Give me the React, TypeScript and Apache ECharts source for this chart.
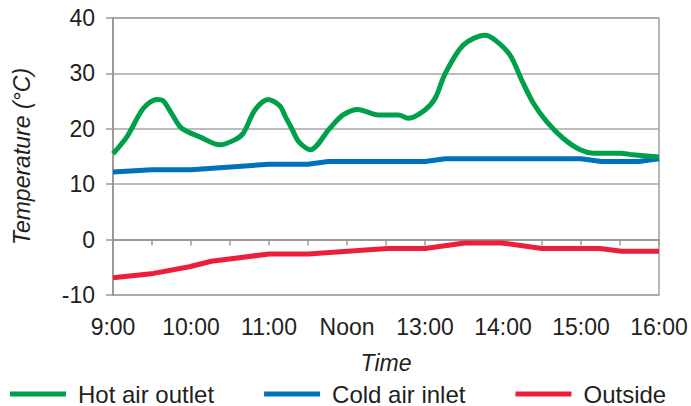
import React, { useEffect, useRef } from "react";
import * as echarts from "echarts";

const xTickLabels = ["9:00", "10:00", "11:00", "Noon", "13:00", "14:00", "15:00", "16:00"];
const seriesNames = ["Hot air outlet", "Cold air inlet", "Outside"];

const hotTimes = [9.0, 9.18, 9.39, 9.56, 9.64, 9.75, 9.88, 10.12, 10.37, 10.56, 10.67, 10.82, 10.99, 11.14, 11.21, 11.29, 11.38, 11.53, 11.78, 11.95, 12.14, 12.4, 12.66, 12.79, 13.0, 13.13, 13.26, 13.49, 13.77, 13.9, 14.09, 14.24, 14.39, 14.56, 14.77, 14.99, 15.16, 15.5, 15.67, 16.0];
const hotValues = [15.5, 18.6, 23.7, 25.3, 25.1, 22.8, 20.1, 18.5, 17.1, 18.0, 19.2, 23.4, 25.3, 24.1, 22.2, 20.1, 17.7, 16.2, 20.1, 22.5, 23.5, 22.5, 22.5, 21.9, 23.4, 25.5, 30.0, 35.1, 36.9, 36.0, 33.3, 28.8, 24.6, 21.3, 18.3, 16.2, 15.6, 15.6, 15.3, 14.9];

const coldTimes = [9.0, 9.5, 10.0, 11.0, 11.5, 11.76, 13.0, 13.26, 15.0, 15.26, 15.74, 16.0];
const coldValues = [12.2, 12.6, 12.6, 13.6, 13.6, 14.1, 14.1, 14.6, 14.6, 14.1, 14.1, 14.6];

const outsideTimes = [9.0, 9.52, 9.98, 10.26, 11.0, 11.5, 12.52, 13.0, 13.51, 13.99, 14.5, 15.24, 15.52, 16.0];
const outsideValues = [-6.9, -6.1, -4.9, -3.9, -2.6, -2.6, -1.6, -1.6, -0.6, -0.6, -1.6, -1.6, -2.1, -2.1];

const colors = ["#00A04B", "#0071BD", "#EE1D3B"];
const FONT = "'Liberation Sans', Arial, sans-serif";
const TEXT = "#231f20";

function pairs(xs: number[], ys: number[]) {
  return xs.map((x, i) => [x, ys[i]]);
}

export default function App() {
  const ref = useRef<HTMLDivElement>(null);
  useEffect(() => {
    if (!ref.current) return;
    const chart = echarts.init(ref.current, undefined, { renderer: "svg" });
    chart.setOption({
      animation: false,
      textStyle: { fontFamily: FONT },
      grid: {
        left: 113,
        right: 32,
        top: 18,
        bottom: 111,
        show: true,
        borderColor: "#a0a0a0",
        borderWidth: 1.5,
      },
      legend: {
        left: 10,
        top: 382,
        padding: 0,
        itemWidth: 56,
        itemHeight: 5,
        itemGap: 50,
        icon: "rect",
        data: seriesNames,
        textStyle: { fontSize: 24, color: TEXT, fontFamily: FONT, padding: [0, 0, 0, 7] },
      },
      xAxis: {
        type: "value",
        min: 9,
        max: 16,
        interval: 0.5,
        name: "Time",
        nameLocation: "middle",
        nameGap: 56,
        nameTextStyle: { fontSize: 23, fontStyle: "italic", color: TEXT, fontFamily: FONT },
        axisLine: { show: true, lineStyle: { color: "#9a9a9a", width: 2 } },
        axisTick: { show: true, length: 6, lineStyle: { color: "#9a9a9a", width: 1.5 } },
        splitLine: { show: false },
        axisLabel: {
          fontSize: 23,
          color: TEXT,
          fontFamily: FONT,
          margin: 20,
          formatter: (v: number) => {
            const r = Math.round(v);
            if (Math.abs(v - r) > 1e-6) return "";
            return xTickLabels[r - 9] ?? "";
          },
        },
      },
      yAxis: {
        type: "value",
        min: -10,
        max: 40,
        interval: 10,
        name: "Temperature (°C)",
        nameLocation: "middle",
        nameGap: 80,
        nameTextStyle: { fontSize: 23, fontStyle: "italic", color: TEXT, fontFamily: FONT },
        axisLine: { show: true, lineStyle: { color: "#9a9a9a", width: 2 } },
        axisTick: { show: true, length: 7, lineStyle: { color: "#9a9a9a", width: 1.5 } },
        splitLine: { show: true, lineStyle: { color: "#a6a6a6", width: 1.5 } },
        axisLabel: { fontSize: 23, color: TEXT, fontFamily: FONT, margin: 18 },
      },
      series: [
        {
          name: seriesNames[0],
          type: "line",
          data: pairs(hotTimes, hotValues),
          smooth: 0.3,
          showSymbol: false,
          lineStyle: { width: 5, color: colors[0] },
          itemStyle: { color: colors[0] },
          z: 3,
        },
        {
          name: seriesNames[1],
          type: "line",
          data: pairs(coldTimes, coldValues),
          showSymbol: false,
          lineStyle: { width: 5, color: colors[1] },
          itemStyle: { color: colors[1] },
          z: 2,
        },
        {
          name: seriesNames[2],
          type: "line",
          data: pairs(outsideTimes, outsideValues),
          showSymbol: false,
          lineStyle: { width: 5, color: colors[2] },
          itemStyle: { color: colors[2] },
          z: 2,
        },
      ],
    });
    return () => chart.dispose();
  }, []);
  return <div ref={ref} style={{ width: 691, height: 406, position: "absolute", left: 0, top: 0 }} />;
}
